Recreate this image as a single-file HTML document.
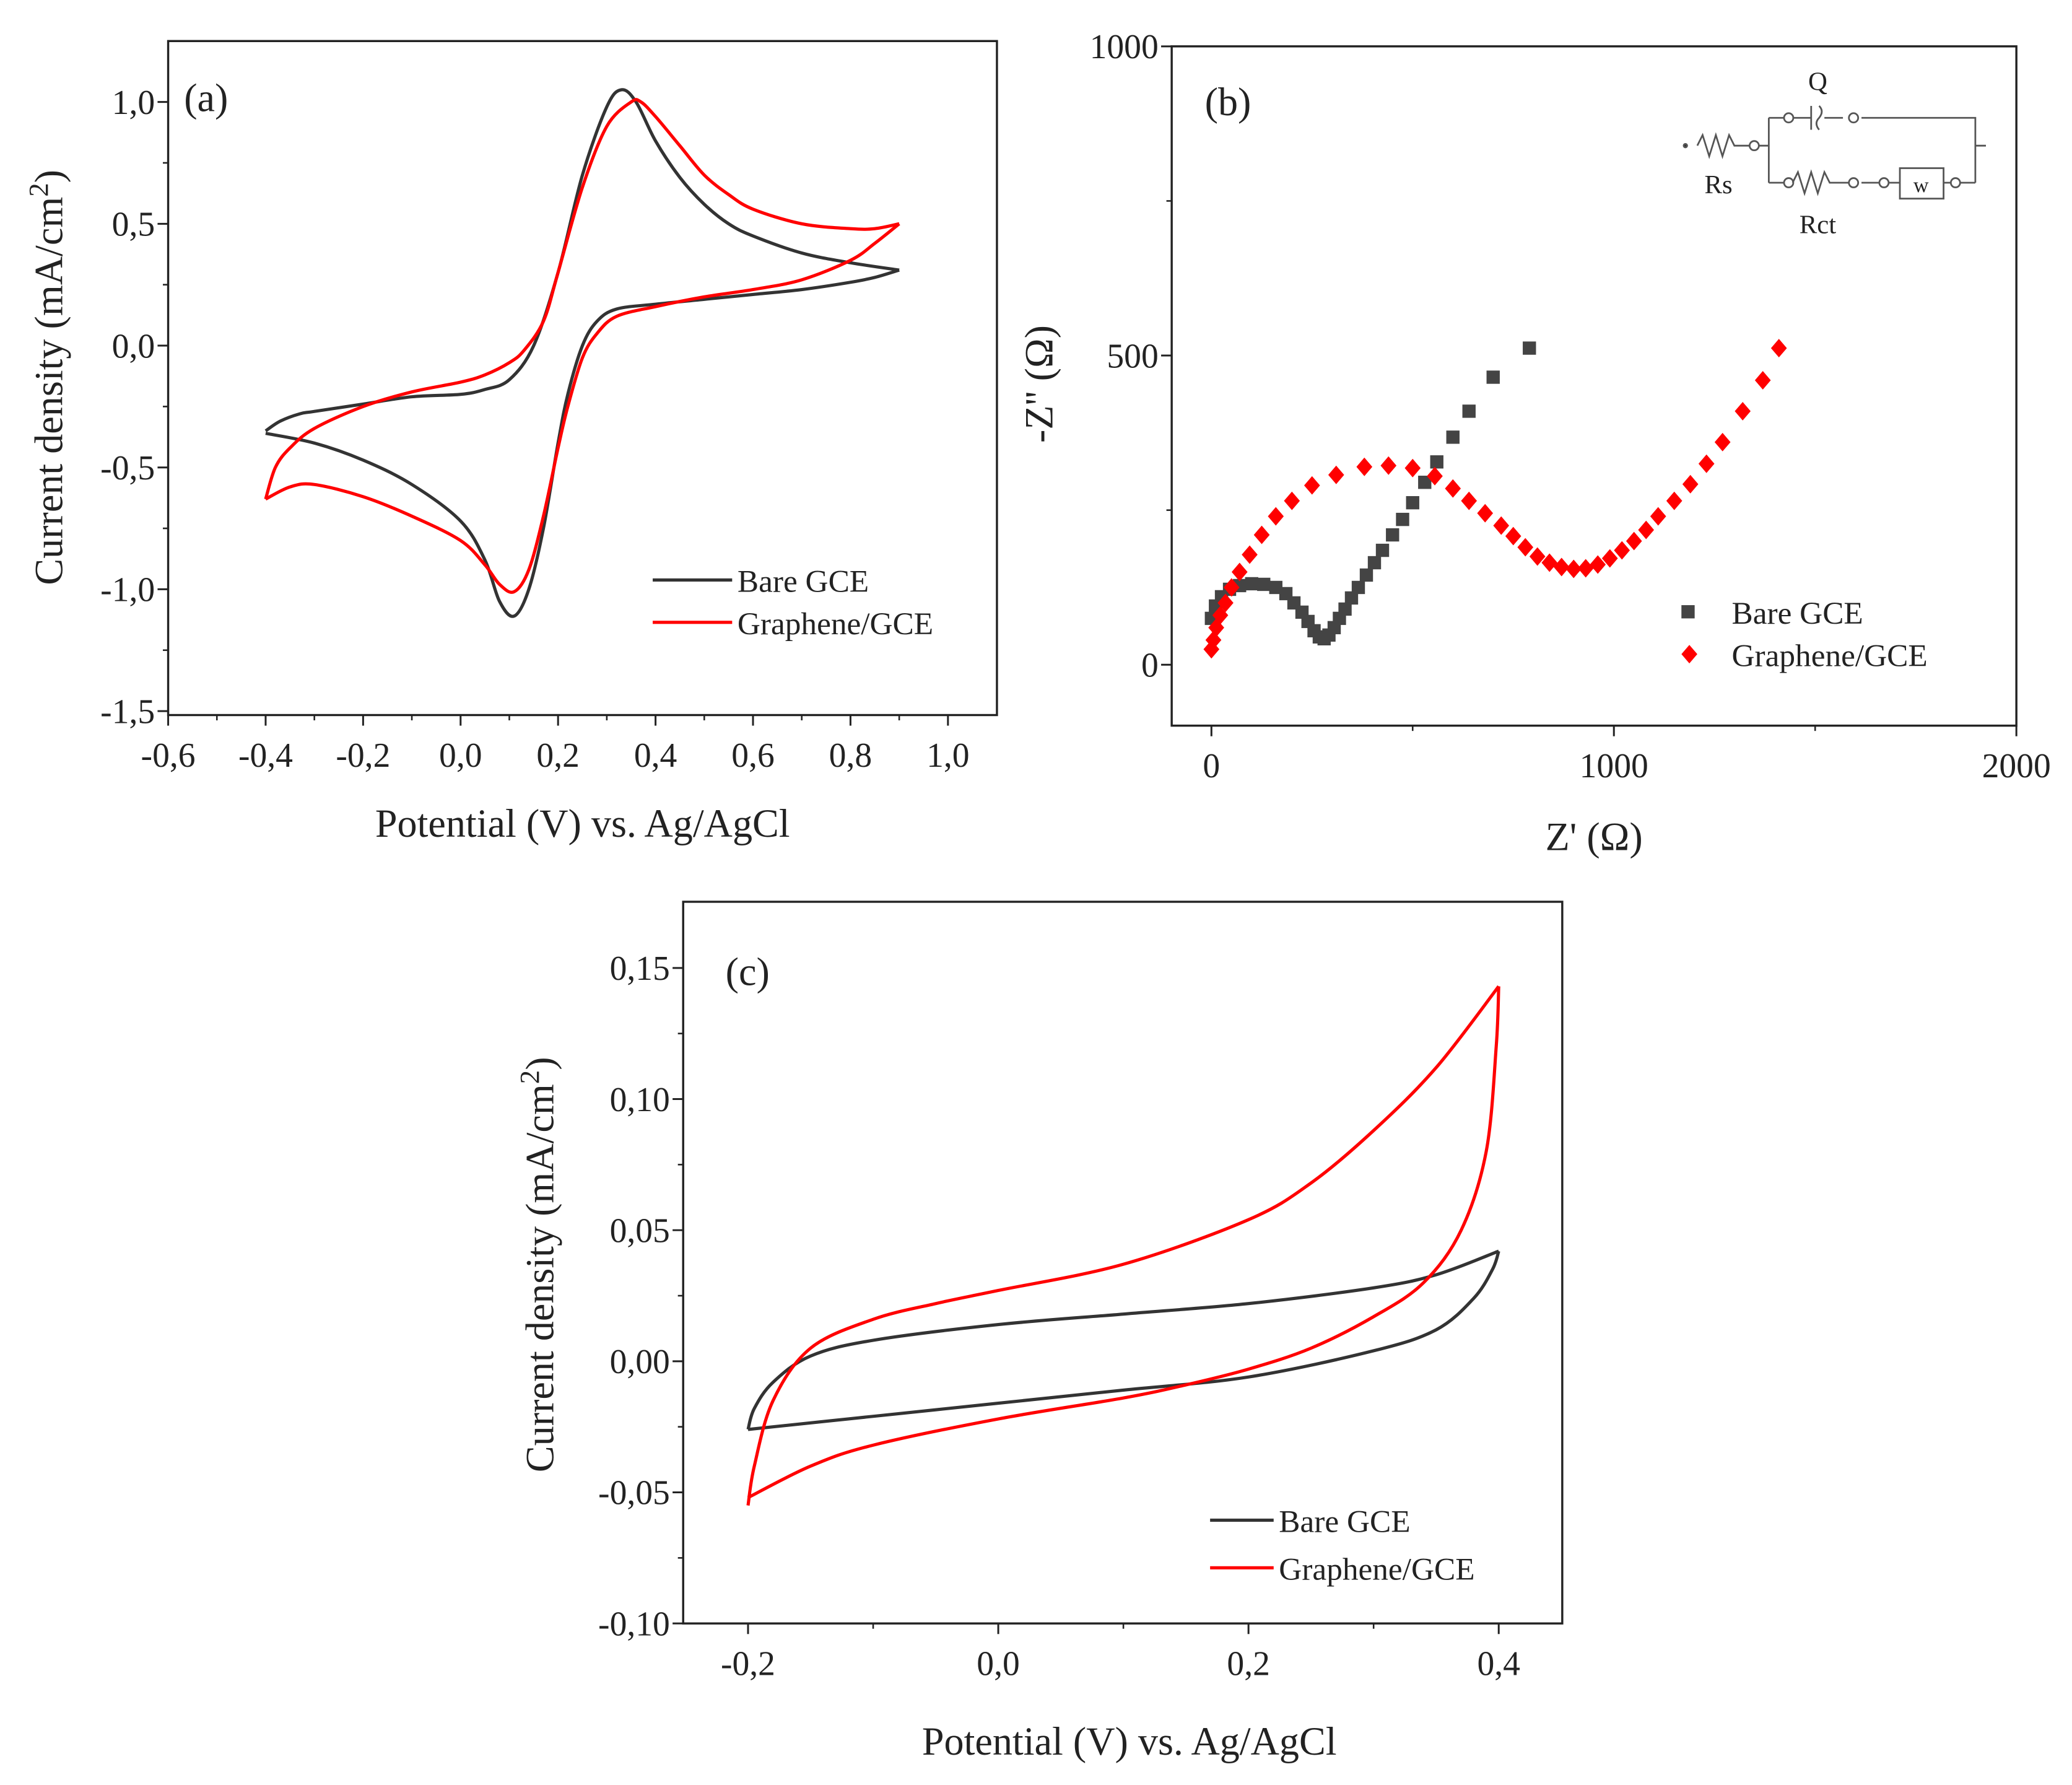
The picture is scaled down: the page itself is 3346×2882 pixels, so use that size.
<!DOCTYPE html>
<html><head><meta charset="utf-8"><style>
html,body{margin:0;padding:0;background:#fff}
svg{display:block}
text{font-family:"Liberation Serif",serif;fill:#222}
</style></head><body>
<svg id="fig" width="3346" height="2882" viewBox="0 0 1565 1348" xmlns="http://www.w3.org/2000/svg"></svg>
<script>
// ---------- DATA ----------
const aBareFwd=[[-0.4,-0.35],[-0.37,-0.31],[-0.33,-0.28],[-0.3,-0.27],[-0.2,-0.24],[-0.1,-0.21],[0.0,-0.2],[0.05,-0.18],[0.1,-0.14],[0.15,0.0],[0.2,0.3],[0.25,0.7],[0.3,0.98],[0.33,1.05],[0.36,1.0],[0.4,0.84],[0.45,0.69],[0.5,0.58],[0.55,0.5],[0.6,0.45],[0.7,0.38],[0.8,0.34],[0.9,0.31]];
const aBareRev=[[0.9,0.31],[0.85,0.28],[0.8,0.26],[0.7,0.23],[0.6,0.21],[0.5,0.19],[0.4,0.17],[0.32,0.15],[0.28,0.1],[0.25,0.0],[0.22,-0.2],[0.2,-0.4],[0.17,-0.75],[0.14,-1.0],[0.11,-1.11],[0.08,-1.05],[0.05,-0.88],[0.0,-0.72],[-0.1,-0.57],[-0.2,-0.47],[-0.3,-0.4],[-0.4,-0.36]];
const aGrFwd=[[-0.4,-0.63],[-0.38,-0.5],[-0.35,-0.42],[-0.3,-0.34],[-0.2,-0.25],[-0.1,-0.19],[0.0,-0.15],[0.05,-0.12],[0.1,-0.07],[0.13,-0.02],[0.17,0.1],[0.2,0.3],[0.25,0.65],[0.3,0.9],[0.35,1.0],[0.37,1.0],[0.4,0.94],[0.45,0.82],[0.5,0.7],[0.55,0.62],[0.6,0.56],[0.7,0.5],[0.8,0.48],[0.85,0.48],[0.9,0.5]];
const aGrRev=[[0.9,0.5],[0.85,0.42],[0.8,0.35],[0.7,0.27],[0.6,0.23],[0.5,0.2],[0.4,0.16],[0.32,0.12],[0.28,0.05],[0.25,-0.05],[0.22,-0.25],[0.2,-0.42],[0.17,-0.7],[0.14,-0.92],[0.11,-1.01],[0.08,-0.98],[0.05,-0.9],[0.0,-0.8],[-0.1,-0.7],[-0.2,-0.62],[-0.3,-0.57],[-0.35,-0.58],[-0.4,-0.63]];
const aXTicks=[-0.6,-0.4,-0.2,0.0,0.2,0.4,0.6,0.8,1.0];
const aYTicks=[-1.5,-1.0,-0.5,0.0,0.5,1.0];
const bBare=[[0,75],[10,95],[25,110],[45,122],[70,128],[100,131],[130,130],[160,125],[185,115],[205,100],[225,85],[240,70],[255,55],[268,45],[280,42],[292,48],[305,60],[318,75],[332,90],[348,108],[365,125],[385,145],[405,165],[425,185],[450,210],[475,235],[500,262],[530,295],[560,328],[600,368],[640,410],[700,465],[790,512]];
const bGr=[[0,25],[5,40],[12,60],[22,80],[35,100],[50,125],[70,150],[95,178],[125,210],[160,240],[200,265],[250,290],[310,307],[380,320],[440,322],[500,318],[555,305],[600,285],[640,265],[680,245],[720,225],[750,208],[780,190],[810,175],[840,165],[870,158],[900,155],[930,156],[960,162],[990,172],[1020,185],[1050,200],[1080,218],[1110,240],[1150,265],[1190,292],[1230,325],[1270,360],[1320,410],[1370,460],[1410,512]];
const bXTicks=[0,1000,2000];
const bYTicks=[0,500,1000];
const cBareFwd=[[-0.2,-0.026],[-0.195,-0.018],[-0.18,-0.008],[-0.15,0.002],[-0.1,0.008],[0.0,0.014],[0.1,0.018],[0.2,0.022],[0.3,0.028],[0.35,0.033],[0.4,0.042]];
const cBareRev=[[0.4,0.042],[0.395,0.035],[0.38,0.024],[0.35,0.012],[0.3,0.004],[0.2,-0.006],[0.1,-0.011],[0.0,-0.016],[-0.1,-0.021],[-0.2,-0.026]];
const cGrFwd=[[-0.2,-0.055],[-0.195,-0.04],[-0.18,-0.015],[-0.15,0.005],[-0.1,0.016],[-0.05,0.022],[0.0,0.027],[0.1,0.037],[0.2,0.054],[0.25,0.068],[0.3,0.088],[0.35,0.112],[0.4,0.143]];
const cGrRev=[[0.4,0.143],[0.398,0.12],[0.39,0.08],[0.37,0.05],[0.34,0.03],[0.3,0.017],[0.25,0.005],[0.2,-0.003],[0.15,-0.009],[0.1,-0.014],[0.0,-0.022],[-0.1,-0.032],[-0.15,-0.04],[-0.2,-0.052]];
const cXTicks=[-0.2,0.0,0.2,0.4];
const cYTicks=[-0.10,-0.05,0.00,0.05,0.10,0.15];

// ---------- HELPERS ----------
const NS="http://www.w3.org/2000/svg";
const svg=document.getElementById('fig');
function el(tag,attrs,parent,txt){const e=document.createElementNS(NS,tag);for(const k in attrs)e.setAttribute(k,attrs[k]);if(txt!==undefined)e.textContent=txt;(parent||svg).appendChild(e);return e;}
function lin(d0,d1,r0,r1){return v=>r0+(v-d0)*(r1-r0)/(d1-d0);}
function smooth(pts){let d=`M${pts[0][0]},${pts[0][1]}`;for(let i=0;i<pts.length-1;i++){const p0=pts[Math.max(0,i-1)],p1=pts[i],p2=pts[i+1],p3=pts[Math.min(pts.length-1,i+2)];const c1=[p1[0]+(p2[0]-p0[0])/6,p1[1]+(p2[1]-p0[1])/6],c2=[p2[0]-(p3[0]-p1[0])/6,p2[1]-(p3[1]-p1[1])/6];d+=`C${c1[0]},${c1[1]} ${c2[0]},${c2[1]} ${p2[0]},${p2[1]}`;}return d;}
function fmt(v,dec){return v.toFixed(dec).replace('.',',');}
function axes(g,box,xs,ys,xt,yt,xminor,yminor,xdec,ydec,fs){
  el('rect',{x:box.l,y:box.t,width:box.r-box.l,height:box.b-box.t,fill:'none',stroke:'#222','stroke-width':1.6},g);
  xt.forEach(v=>{const x=xs(v);el('line',{x1:x,y1:box.b,x2:x,y2:box.b+8,stroke:'#222','stroke-width':1.4},g);
    const t=el('text',{x:x,y:box.b+39,'text-anchor':'middle','font-size':fs},g,xdec<0?String(v):fmt(v,xdec));});
  xminor.forEach(v=>{const x=xs(v);el('line',{x1:x,y1:box.b,x2:x,y2:box.b+4,stroke:'#222','stroke-width':1.2},g);});
  yt.forEach(v=>{const y=ys(v);el('line',{x1:box.l-8,y1:y,x2:box.l,y2:y,stroke:'#222','stroke-width':1.4},g);
    const t=el('text',{x:box.l-10,y:y+9,'text-anchor':'end','font-size':fs},g,ydec<0?String(v):fmt(v,ydec));});
  yminor.forEach(v=>{const y=ys(v);el('line',{x1:box.l-4,y1:y,x2:box.l,y2:y,stroke:'#222','stroke-width':1.2},g);});
}
function curve(g,data,xs,ys,color,name){const p=el('path',{d:smooth(data.map(d=>[xs(d[0]),ys(d[1])])),fill:'none',stroke:color,'stroke-width':2.4,'stroke-linejoin':'round'},g);}

// ---------- PANEL A ----------
const ga=el('g',{},svg);
const ax=lin(-0.6,1.0,127,716), ay=lin(0,1.0,261,77);
const boxA={l:127,r:753,t:31,b:540};
axes(ga,boxA,ax,ay,aXTicks,aYTicks,[-0.5,-0.3,-0.1,0.1,0.3,0.5,0.7,0.9],[-1.25,-0.75,-0.25,0.25,0.75],1,1,26);
curve(ga,aBareFwd,ax,ay,'#333','bare-gce-forward');curve(ga,aBareRev,ax,ay,'#333','bare-gce-reverse');
curve(ga,aGrFwd,ax,ay,'#f00','graphene-forward');curve(ga,aGrRev,ax,ay,'#f00','graphene-reverse');
el('text',{x:139,y:84,'font-size':30},ga,'(a)');
el('line',{x1:493,y1:438,x2:553,y2:438,stroke:'#333','stroke-width':2.4},ga);
el('line',{x1:493,y1:470,x2:553,y2:470,stroke:'#f00','stroke-width':2.4},ga);
el('text',{x:557,y:447,'font-size':24},ga,'Bare GCE');
el('text',{x:557,y:479,'font-size':24},ga,'Graphene/GCE');
const ayt=el('text',{x:0,y:0,'font-size':30,'text-anchor':'middle',transform:'translate(47,285) rotate(-90)'},ga);
ayt.innerHTML='Current density (mA/cm<tspan dy="-11" font-size="21">2</tspan><tspan dy="11">)</tspan>';
el('text',{x:440,y:632,'font-size':30,'text-anchor':'middle'},ga,'Potential (V) vs. Ag/AgCl');

// ---------- PANEL B ----------
const gb=el('g',{},svg);
const bx=lin(0,1000,915,1219), by=lin(0,500,502,268.5);
const boxB={l:885,r:1523,t:35,b:548};
axes(gb,boxB,bx,by,bXTicks,bYTicks,[500,1500],[250,750],-1,-1,26);
bBare.forEach(p=>{const r=el('rect',{x:bx(p[0])-5,y:by(p[1])-5,width:10,height:10,fill:'#444'},gb);});
bGr.forEach(p=>{const x=bx(p[0]),y=by(p[1]);const r=el('polygon',{points:`${x},${y-7} ${x+6},${y} ${x},${y+7} ${x-6},${y}`,fill:'#f00'},gb);});
el('text',{x:910,y:87,'font-size':30},gb,'(b)');
el('rect',{x:1270,y:457,width:10,height:10,fill:'#444'},gb);
el('polygon',{points:'1276,487 1282,494 1276,501 1270,494',fill:'#f00'},gb);
el('text',{x:1308,y:471,'font-size':24},gb,'Bare GCE');
el('text',{x:1308,y:503,'font-size':24},gb,'Graphene/GCE');
const byt=el('text',{x:0,y:0,'font-size':30,'text-anchor':'middle',transform:'translate(795,290) rotate(-90)'},gb,"-Z'' (Ω)");
el('text',{x:1204,y:642,'font-size':30,'text-anchor':'middle'},gb,"Z' (Ω)");
const ci=el('g',{stroke:'#555','stroke-width':1.3,fill:'none'},gb);
el('circle',{cx:1273,cy:110,r:1.3,fill:'#333'},ci);
el('path',{d:'M1282,110 l4,-8 l5,16 l5,-16 l5,16 l5,-16 l4,8 h12'},ci);
el('path',{d:'M1328,110 h8 M1336,89 v49 M1336,89 h12 M1354,89 h14 M1368,80 v18 M1374,80 q4,4 0,9 q-4,4 0,9 M1378,89 h14 M1406,89 h86 v49 M1336,138 h12 M1354,138 l4,-8 l5,16 l5,-16 l5,16 l5,-16 l4,8 h14 M1406,138 h14 M1426,138 h9 M1468,138 h6 M1480,138 h12 M1492,110 h8'},ci);
[[1325,110],[1351,89],[1400,89],[1351,138],[1400,138],[1423,138],[1477,138]].forEach(c=>el('circle',{cx:c[0],cy:c[1],r:3.5},ci));
el('rect',{x:1435,y:127,width:33,height:23},ci);
el('text',{x:1373,y:68,'font-size':20,'text-anchor':'middle','font-family':'Liberation Sans'},gb,'Q');
el('text',{x:1298,y:146,'font-size':20,'text-anchor':'middle','font-family':'Liberation Sans'},gb,'Rs');
el('text',{x:1373,y:176,'font-size':20,'text-anchor':'middle','font-family':'Liberation Sans'},gb,'Rct');
el('text',{x:1451,y:145,'font-size':16,'text-anchor':'middle','font-family':'Liberation Sans'},gb,'w');

// ---------- PANEL C ----------
const gc=el('g',{},svg);
const cx=lin(-0.2,0.4,565,1132), cy=lin(0,0.15,1028,731);
const boxC={l:516,r:1180,t:681,b:1226};
axes(gc,boxC,cx,cy,cXTicks,cYTicks,[-0.1,0.1,0.3],[-0.075,-0.025,0.025,0.075,0.125],1,2,26);
curve(gc,cBareFwd,cx,cy,'#333','bare-gce-forward-c');curve(gc,cBareRev,cx,cy,'#333','bare-gce-reverse-c');
curve(gc,cGrFwd,cx,cy,'#f00','graphene-forward-c');curve(gc,cGrRev,cx,cy,'#f00','graphene-reverse-c');
el('text',{x:548,y:744,'font-size':30},gc,'(c)');
el('line',{x1:914,y1:1148,x2:962,y2:1148,stroke:'#333','stroke-width':2.4},gc);
el('line',{x1:914,y1:1184,x2:962,y2:1184,stroke:'#f00','stroke-width':2.4},gc);
el('text',{x:966,y:1157,'font-size':24},gc,'Bare GCE');
el('text',{x:966,y:1193,'font-size':24},gc,'Graphene/GCE');
const cyt=el('text',{x:0,y:0,'font-size':30,'text-anchor':'middle',transform:'translate(418,955) rotate(-90)'},gc);
cyt.innerHTML='Current density (mA/cm<tspan dy="-11" font-size="21">2</tspan><tspan dy="11">)</tspan>';
el('text',{x:853,y:1325,'font-size':30,'text-anchor':'middle'},gc,'Potential (V) vs. Ag/AgCl');
</script>
</body></html>
